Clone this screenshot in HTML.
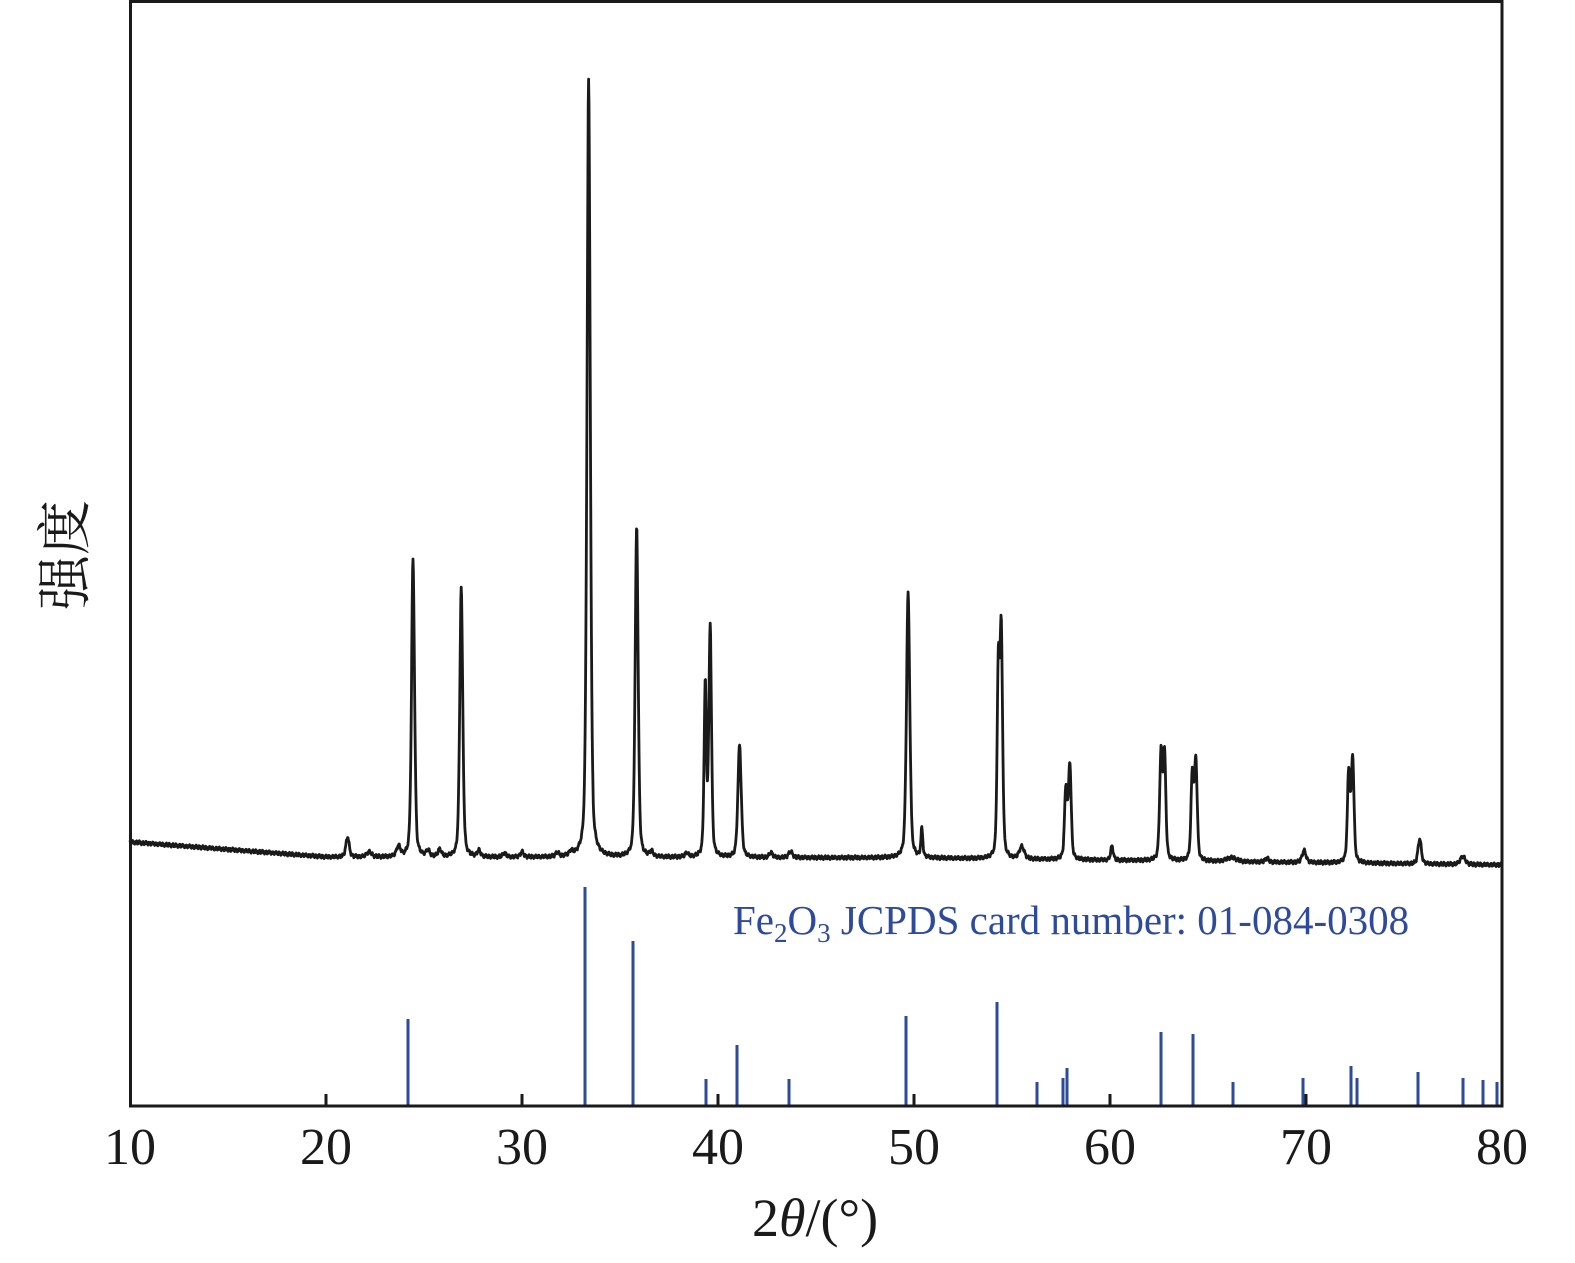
<!DOCTYPE html>
<html><head><meta charset="utf-8"><style>
html,body{margin:0;padding:0;background:#fff;}
svg{display:block;}
text{font-family:"Liberation Serif","Noto Serif CJK SC",serif;}
</style></head><body>
<svg id="s" width="1575" height="1263" viewBox="0 0 1575 1263" xmlns="http://www.w3.org/2000/svg">
<path id="curve" fill="none" stroke="#1a1a1a" stroke-width="2.8" stroke-linejoin="round" d=""/>
<g stroke="#2e4a9a" stroke-width="3" id="bars"></g>
<rect x="130.5" y="1.5" width="1371.5" height="1104.5" fill="none" stroke="#1a1a1a" stroke-width="3"/>
<g stroke="#1a1a1a" stroke-width="3" id="ticks"></g>
<g font-size="52" fill="#1a1a1a" text-anchor="middle">
<text x="130" y="1164">10</text><text x="326" y="1164">20</text><text x="522" y="1164">30</text>
<text x="718" y="1164">40</text><text x="914" y="1164">50</text><text x="1110" y="1164">60</text>
<text x="1306" y="1164">70</text><text x="1502" y="1164">80</text>
</g>
<text x="815" y="1236" font-size="54" text-anchor="middle" fill="#1a1a1a">2<tspan font-style="italic">θ</tspan>/(°)</text>
<text transform="translate(84,555) rotate(-90)" font-size="55" text-anchor="middle" fill="#1a1a1a">强度</text>
<text x="733" y="934" font-size="41" fill="#2e4a9a">Fe<tspan font-size="27" dy="8">2</tspan><tspan dy="-8">O</tspan><tspan font-size="27" dy="8">3</tspan><tspan dy="-8"> JCPDS card number: 01-084-0308</tspan></text>
</svg>
<script>
function X(v){return 130+(v-10)*19.6;}
function base(v){
 if(v<20) return 842+(v-10)*1.5;
 if(v<50) return 857+(v-20)*0.03;
 return 858+(v-50)*0.23;
}
var peaks=[[21.1,20,.1],[22.2,5,.15],[23.7,10,.12],[24.44,297,.09],[25.2,6,.1],[25.8,7,.1],[26.9,270,.09],[27.8,6,.1],[29.1,4,.1],[30,5,.1],[31.8,4,.1],[32.5,4,.1],
[33.4,776,.1],[35.85,332,.09],[36.6,5,.1],[38.4,4,.1],[39.35,170,.07],[39.6,230,.08],[41.1,113,.1],[42.7,5,.1],[43.7,6,.12],[49.7,264,.1],[50.4,28,.06],
[54.3,180,.07],[54.45,225,.08],[55.5,12,.15],[57.75,70,.08],[57.95,95,.08],[60.1,14,.08],[62.6,105,.08],[62.78,105,.08],[64.2,85,.08],[64.38,100,.08],[66.2,4,.3],[68,4,.1],
[69.9,12,.12],[72.18,90,.08],[72.38,105,.08],[75.8,25,.1],[78,8,.15]];
var d="";
for(var v=10;v<=80.001;v+=0.02){
 var y=base(v);
 for(var i=0;i<peaks.length;i++){var p=peaks[i];var t=(v-p[0])/p[2];
  y-=p[1]*(0.6*Math.exp(-0.693*t*t)+0.4/(1+t*t));}
 y+=Math.sin(v*37)*1.2+Math.sin(v*91)*0.8;
 d+=(d?"L":"M")+X(v).toFixed(1)+" "+y.toFixed(1);
}
document.getElementById("curve").setAttribute("d",d);
var bars=[[408,1019],[585,887],[633,941],[706,1079],[737,1045],[789,1079],[906,1016],[997,1002],[1037,1082],[1063,1078],[1067,1068],[1161,1032],[1193,1034],[1233,1082],[1303,1078],[1351,1066],[1357,1078],[1418,1072],[1463,1078],[1483,1080],[1497,1082]];
var g=document.getElementById("bars"),h="";
bars.forEach(function(b){h+='<line x1="'+b[0]+'" x2="'+b[0]+'" y1="'+b[1]+'" y2="1106"/>';});
g.innerHTML=h;
var t="";
for(var k=20;k<80;k+=10){var x=X(k);t+='<line x1="'+x+'" x2="'+x+'" y1="1106" y2="1094"/>';}
document.getElementById("ticks").innerHTML=t;
</script>
</body></html>
